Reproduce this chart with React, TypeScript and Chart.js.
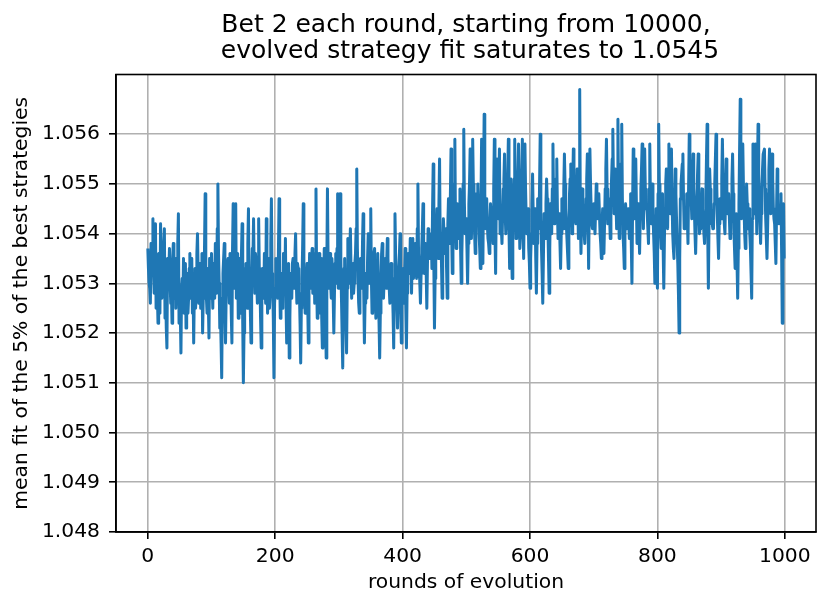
import { useEffect, useRef } from "react";
import { Chart, registerables } from "chart.js";

Chart.register(...registerables);

const TITLE_LINES = ["Bet 2 each round, starting from 10000,", " evolved strategy fit saturates to 1.0545"];
const X_LABEL = "rounds of evolution";
const Y_LABEL = "mean fit of the 5% of the best strategies";

const xTickValues = [0, 200, 400, 600, 800, 1000];
const yTickValues = [1.048, 1.049, 1.05, 1.051, 1.052, 1.053, 1.054, 1.055, 1.056];

// Each block covers 100 rounds; "even" holds rounds 0,2,4,... and "odd" rounds 1,3,5,... of that block
const BLOCK_START = [0, 100, 200, 300, 400, 500, 600, 700, 800, 900];

const even000 = [
  1.0537, 1.0530, 1.0526, 1.0534, 1.0543, 1.0528, 1.0542, 1.0531, 1.0522, 1.0533,
  1.0542, 1.0527, 1.0535, 1.0541, 1.0529, 1.0517, 1.0530, 1.0537, 1.0526, 1.0522,
  1.0538, 1.0530, 1.0525, 1.0533, 1.0544, 1.0527, 1.0516, 1.0531, 1.0535, 1.0528,
  1.0521, 1.0532, 1.0527, 1.0536, 1.0529, 1.0524, 1.0518, 1.0533, 1.0530, 1.0540,
  1.0526, 1.0534, 1.0529, 1.0520, 1.0531, 1.0548, 1.0527, 1.0533, 1.0519, 1.0530,
];
const odd000 = [
  1.0533, 1.0529, 1.0538, 1.0536, 1.0532, 1.0539, 1.0525, 1.0528, 1.0536, 1.0524,
  1.0534, 1.0531, 1.0538, 1.0523, 1.0521, 1.0535, 1.0533, 1.0530, 1.0529, 1.0535,
  1.0527, 1.0535, 1.0531, 1.0538, 1.0522, 1.0524, 1.0529, 1.0526, 1.0524, 1.0534,
  1.0530, 1.0524, 1.0533, 1.0527, 1.0535, 1.0530, 1.0528, 1.0525, 1.0536, 1.0532,
  1.0531, 1.0525, 1.0536, 1.0527, 1.0537, 1.0532, 1.0524, 1.0526, 1.0535, 1.0527,
];
const even100 = [
  1.0536, 1.0525, 1.0532, 1.0538, 1.0528, 1.0550, 1.0530, 1.0524, 1.0511, 1.0532,
  1.0538, 1.0518, 1.0530, 1.0535, 1.0526, 1.0533, 1.0518, 1.0546, 1.0529, 1.0546,
  1.0531, 1.0523, 1.0535, 1.0529, 1.0542, 1.0510, 1.0528, 1.0534, 1.0525, 1.0545,
  1.0532, 1.0518, 1.0537, 1.0543, 1.0528, 1.0534, 1.0526, 1.0543, 1.0530, 1.0517,
  1.0533, 1.0527, 1.0531, 1.0543, 1.0524, 1.0535, 1.0528, 1.0547, 1.0530, 1.0511,
];
const odd100 = [
  1.0530, 1.0534, 1.0527, 1.0533, 1.0541, 1.0536, 1.0521, 1.0518, 1.0527, 1.0535,
  1.0525, 1.0528, 1.0534, 1.0531, 1.0536, 1.0524, 1.0537, 1.0533, 1.0536, 1.0527,
  1.0536, 1.0530, 1.0524, 1.0536, 1.0522, 1.0520, 1.0533, 1.0529, 1.0538, 1.0527,
  1.0524, 1.0531, 1.0535, 1.0533, 1.0536, 1.0530, 1.0535, 1.0533, 1.0523, 1.0527,
  1.0530, 1.0536, 1.0526, 1.0532, 1.0530, 1.0525, 1.0538, 1.0532, 1.0523, 1.0526,
];
const even200 = [
  1.0529, 1.0534, 1.0527, 1.0547, 1.0523, 1.0532, 1.0526, 1.0533, 1.0539, 1.0518,
  1.0530, 1.0515, 1.0532, 1.0527, 1.0535, 1.0529, 1.0540, 1.0526, 1.0533, 1.0528,
  1.0514, 1.0531, 1.0546, 1.0530, 1.0525, 1.0534, 1.0518, 1.0536, 1.0529, 1.0537,
  1.0531, 1.0526, 1.0549, 1.0523, 1.0533, 1.0528, 1.0535, 1.0517, 1.0530, 1.0534,
  1.0515, 1.0549, 1.0529, 1.0536, 1.0527, 1.0532, 1.0520, 1.0534, 1.0530, 1.0548,
];
const odd200 = [
  1.0535, 1.0530, 1.0536, 1.0531, 1.0528, 1.0525, 1.0536, 1.0528, 1.0526, 1.0524,
  1.0534, 1.0523, 1.0528, 1.0534, 1.0530, 1.0536, 1.0531, 1.0534, 1.0527, 1.0522,
  1.0525, 1.0537, 1.0533, 1.0524, 1.0531, 1.0526, 1.0530, 1.0533, 1.0535, 1.0528,
  1.0536, 1.0530, 1.0531, 1.0528, 1.0536, 1.0524, 1.0523, 1.0533, 1.0537, 1.0525,
  1.0533, 1.0535, 1.0532, 1.0530, 1.0535, 1.0527, 1.0528, 1.0536, 1.0537, 1.0529,
];
const even300 = [
  1.0531, 1.0548, 1.0527, 1.0513, 1.0533, 1.0528, 1.0516, 1.0539, 1.0530, 1.0541,
  1.0527, 1.0534, 1.0530, 1.0536, 1.0553, 1.0531, 1.0524, 1.0535, 1.0529, 1.0544,
  1.0518, 1.0532, 1.0527, 1.0540, 1.0530, 1.0545, 1.0524, 1.0533, 1.0537, 1.0523,
  1.0532, 1.0528, 1.0515, 1.0531, 1.0538, 1.0527, 1.0533, 1.0529, 1.0539, 1.0531,
  1.0526, 1.0534, 1.0529, 1.0517, 1.0544, 1.0530, 1.0521, 1.0533, 1.0540, 1.0518,
];
const odd300 = [
  1.0537, 1.0535, 1.0520, 1.0528, 1.0535, 1.0522, 1.0529, 1.0535, 1.0536, 1.0533,
  1.0531, 1.0528, 1.0534, 1.0541, 1.0537, 1.0526, 1.0532, 1.0530, 1.0538, 1.0528,
  1.0526, 1.0530, 1.0535, 1.0534, 1.0538, 1.0531, 1.0529, 1.0536, 1.0529, 1.0527,
  1.0536, 1.0522, 1.0524, 1.0536, 1.0532, 1.0531, 1.0535, 1.0534, 1.0535, 1.0529,
  1.0532, 1.0530, 1.0524, 1.0531, 1.0536, 1.0526, 1.0528, 1.0536, 1.0525, 1.0529,
];
const even400 = [
  1.0530, 1.0526, 1.0537, 1.0517, 1.0532, 1.0535, 1.0539, 1.0528, 1.0539, 1.0533,
  1.0538, 1.0531, 1.0550, 1.0534, 1.0526, 1.0537, 1.0546, 1.0532, 1.0538, 1.0525,
  1.0541, 1.0535, 1.0538, 1.0533, 1.0554, 1.0521, 1.0537, 1.0545, 1.0535, 1.0555,
  1.0540, 1.0527, 1.0543, 1.0536, 1.0541, 1.0527, 1.0547, 1.0538, 1.0557, 1.0532,
  1.0544, 1.0559, 1.0537, 1.0546, 1.0539, 1.0549, 1.0530, 1.0543, 1.0561, 1.0540,
];
const odd400 = [
  1.0533, 1.0531, 1.0525, 1.0528, 1.0536, 1.0532, 1.0534, 1.0535, 1.0531, 1.0536,
  1.0534, 1.0541, 1.0536, 1.0530, 1.0532, 1.0541, 1.0537, 1.0535, 1.0532, 1.0534,
  1.0538, 1.0536, 1.0540, 1.0545, 1.0534, 1.0531, 1.0541, 1.0539, 1.0546, 1.0538,
  1.0534, 1.0536, 1.0540, 1.0538, 1.0533, 1.0542, 1.0541, 1.0548, 1.0540, 1.0538,
  1.0550, 1.0542, 1.0541, 1.0543, 1.0545, 1.0537, 1.0536, 1.0550, 1.0546, 1.0542,
];
const even500 = [
  1.0543, 1.0530, 1.0546, 1.0557, 1.0539, 1.0559, 1.0544, 1.0536, 1.0548, 1.0550,
  1.0540, 1.0533, 1.0559, 1.0534, 1.0564, 1.0541, 1.0547, 1.0539, 1.0536, 1.0546,
  1.0542, 1.0538, 1.0559, 1.0532, 1.0555, 1.0543, 1.0557, 1.0545, 1.0538, 1.0549,
  1.0556, 1.0540, 1.0546, 1.0559, 1.0533, 1.0551, 1.0531, 1.0545, 1.0559, 1.0539,
  1.0547, 1.0558, 1.0537, 1.0544, 1.0559, 1.0535, 1.0558, 1.0543, 1.0541, 1.0537,
];
const odd500 = [
  1.0537, 1.0538, 1.0550, 1.0546, 1.0548, 1.0550, 1.0540, 1.0542, 1.0543, 1.0545,
  1.0537, 1.0546, 1.0544, 1.0550, 1.0548, 1.0543, 1.0542, 1.0538, 1.0541, 1.0544,
  1.0540, 1.0549, 1.0540, 1.0546, 1.0548, 1.0551, 1.0540, 1.0541, 1.0544, 1.0551,
  1.0544, 1.0543, 1.0552, 1.0541, 1.0545, 1.0538, 1.0540, 1.0551, 1.0546, 1.0543,
  1.0551, 1.0545, 1.0540, 1.0552, 1.0542, 1.0546, 1.0549, 1.0540, 1.0545, 1.0534,
];
const even600 = [
  1.0529, 1.0540, 1.0552, 1.0538, 1.0545, 1.0528, 1.0547, 1.0541, 1.0560, 1.0537,
  1.0526, 1.0544, 1.0539, 1.0551, 1.0542, 1.0528, 1.0546, 1.0540, 1.0558, 1.0542,
  1.0548, 1.0555, 1.0539, 1.0544, 1.0533, 1.0547, 1.0541, 1.0556, 1.0545, 1.0539,
  1.0533, 1.0548, 1.0554, 1.0540, 1.0557, 1.0544, 1.0542, 1.0553, 1.0539, 1.0569,
  1.0536, 1.0549, 1.0543, 1.0538, 1.0547, 1.0556, 1.0533, 1.0557, 1.0545, 1.0541,
];
const odd600 = [
  1.0535, 1.0546, 1.0544, 1.0541, 1.0535, 1.0538, 1.0544, 1.0550, 1.0543, 1.0532,
  1.0535, 1.0541, 1.0546, 1.0547, 1.0535, 1.0537, 1.0543, 1.0549, 1.0546, 1.0544,
  1.0551, 1.0545, 1.0541, 1.0538, 1.0540, 1.0544, 1.0549, 1.0550, 1.0542, 1.0536,
  1.0541, 1.0551, 1.0547, 1.0549, 1.0550, 1.0543, 1.0548, 1.0546, 1.0552, 1.0544,
  1.0543, 1.0546, 1.0540, 1.0542, 1.0551, 1.0544, 1.0546, 1.0550, 1.0542, 1.0544,
];
const even700 = [
  1.0546, 1.0540, 1.0550, 1.0543, 1.0548, 1.0540, 1.0535, 1.0545, 1.0536, 1.0549,
  1.0559, 1.0542, 1.0547, 1.0539, 1.0551, 1.0561, 1.0544, 1.0553, 1.0541, 1.0563,
  1.0539, 1.0548, 1.0562, 1.0540, 1.0533, 1.0546, 1.0541, 1.0545, 1.0539, 1.0548,
  1.0530, 1.0557, 1.0543, 1.0555, 1.0538, 1.0546, 1.0536, 1.0549, 1.0558, 1.0541,
  1.0557, 1.0545, 1.0544, 1.0538, 1.0558, 1.0542, 1.0550, 1.0540, 1.0530, 1.0545,
];
const odd700 = [
  1.0543, 1.0545, 1.0546, 1.0545, 1.0544, 1.0538, 1.0541, 1.0540, 1.0542, 1.0553,
  1.0549, 1.0545, 1.0543, 1.0546, 1.0555, 1.0550, 1.0549, 1.0546, 1.0552, 1.0548,
  1.0543, 1.0554, 1.0547, 1.0537, 1.0540, 1.0543, 1.0543, 1.0542, 1.0544, 1.0538,
  1.0545, 1.0549, 1.0550, 1.0546, 1.0542, 1.0541, 1.0543, 1.0553, 1.0548, 1.0550,
  1.0549, 1.0546, 1.0541, 1.0549, 1.0547, 1.0546, 1.0544, 1.0536, 1.0539, 1.0536,
];
const even800 = [
  1.0529, 1.0562, 1.0543, 1.0537, 1.0548, 1.0529, 1.0545, 1.0553, 1.0541, 1.0558,
  1.0544, 1.0557, 1.0540, 1.0535, 1.0553, 1.0543, 1.0534, 1.0520, 1.0547, 1.0552,
  1.0556, 1.0541, 1.0542, 1.0548, 1.0538, 1.0560, 1.0552, 1.0543, 1.0556, 1.0545,
  1.0536, 1.0547, 1.0556, 1.0540, 1.0542, 1.0549, 1.0543, 1.0538, 1.0547, 1.0562,
  1.0529, 1.0553, 1.0545, 1.0542, 1.0541, 1.0550, 1.0560, 1.0544, 1.0535, 1.0547,
];
const odd800 = [
  1.0548, 1.0550, 1.0540, 1.0544, 1.0537, 1.0539, 1.0550, 1.0546, 1.0550, 1.0549,
  1.0551, 1.0547, 1.0537, 1.0545, 1.0548, 1.0538, 1.0528, 1.0535, 1.0550, 1.0554,
  1.0547, 1.0543, 1.0545, 1.0543, 1.0550, 1.0555, 1.0547, 1.0550, 1.0549, 1.0540,
  1.0542, 1.0552, 1.0547, 1.0541, 1.0546, 1.0545, 1.0540, 1.0543, 1.0555, 1.0540,
  1.0542, 1.0549, 1.0543, 1.0541, 1.0546, 1.0555, 1.0551, 1.0539, 1.0542, 1.0545,
];
const even900 = [
  1.0543, 1.0559, 1.0546, 1.0540, 1.0555, 1.0544, 1.0548, 1.0539, 1.0545, 1.0556,
  1.0541, 1.0533, 1.0544, 1.0527, 1.0546, 1.0567, 1.0543, 1.0558, 1.0545, 1.0537,
  1.0550, 1.0541, 1.0545, 1.0537, 1.0527, 1.0558, 1.0544, 1.0558, 1.0540, 1.0562,
  1.0546, 1.0538, 1.0549, 1.0556, 1.0557, 1.0543, 1.0535, 1.0548, 1.0557, 1.0544,
  1.0556, 1.0545, 1.0542, 1.0534, 1.0553, 1.0543, 1.0542, 1.0548, 1.0522, 1.0546,
];
const odd900 = [
  1.0551, 1.0551, 1.0542, 1.0548, 1.0549, 1.0546, 1.0543, 1.0542, 1.0551, 1.0548,
  1.0537, 1.0538, 1.0534, 1.0537, 1.0557, 1.0553, 1.0551, 1.0550, 1.0540, 1.0544,
  1.0546, 1.0543, 1.0540, 1.0532, 1.0543, 1.0550, 1.0551, 1.0549, 1.0553, 1.0552,
  1.0542, 1.0544, 1.0553, 1.0556, 1.0549, 1.0539, 1.0541, 1.0553, 1.0550, 1.0549,
  1.0551, 1.0543, 1.0538, 1.0544, 1.0547, 1.0542, 1.0545, 1.0536, 1.0534, 1.0535,
];

const EVEN_BLOCKS = [even000, even100, even200, even300, even400, even500, even600, even700, even800, even900];
const ODD_BLOCKS = [odd000, odd100, odd200, odd300, odd400, odd500, odd600, odd700, odd800, odd900];

const FONT = "'DejaVu Sans', sans-serif";

export default function App() {
  const canvasRef = useRef<HTMLCanvasElement | null>(null);

  useEffect(() => {
    const canvas = canvasRef.current;
    if (!canvas) return;
    const points: { x: number; y: number }[] = [];
    BLOCK_START.forEach((start, b) => {
      const ev = EVEN_BLOCKS[b];
      const od = ODD_BLOCKS[b];
      for (let i = 0; i < ev.length; i++) {
        points.push({ x: start + 2 * i, y: ev[i] });
        if (i < od.length) points.push({ x: start + 2 * i + 1, y: od[i] });
      }
    });

    const framePlugin = {
      id: "frame",
      afterDraw(chart: any) {
        const { ctx, chartArea } = chart;
        ctx.save();
        ctx.strokeStyle = "#000";
        ctx.lineWidth = 1.6;
        ctx.strokeRect(chartArea.left, chartArea.top, chartArea.right - chartArea.left, chartArea.bottom - chartArea.top);
        ctx.restore();
      },
    };

    const chart = new Chart(canvas, {
      type: "line",
      data: {
        datasets: [
          {
            data: points,
            borderColor: "#1f77b4",
            borderWidth: 3.0,
            pointRadius: 0,
            tension: 0,
            borderJoinStyle: "round",
            fill: false,
          },
        ],
      },
      options: {
        animation: false,
        responsive: true,
        maintainAspectRatio: false,
        devicePixelRatio: 1,
        layout: { padding: { left: 0, right: 2, top: 0, bottom: 0 } },
        plugins: {
          legend: { display: false },
          tooltip: { enabled: false },
          title: {
            display: true,
            text: TITLE_LINES,
            fullSize: false,
            color: "#000",
            font: { family: FONT, size: 25, weight: "normal", lineHeight: 1.03 },
            padding: { top: 13, bottom: 10 },
          },
        },
        scales: {
          x: {
            type: "linear",
            min: -49.95,
            max: 1048.95,
            afterBuildTicks: (s: any) => {
              s.ticks = xTickValues.map((v) => ({ value: v }));
            },
            afterFit: (s: any) => {
              s.height = 61;
            },
            grid: { color: "#b0b0b0", lineWidth: 1.6, tickColor: "#000", tickLength: 7, tickWidth: 1.6 },
            border: { color: "#000", width: 1.6 },
            ticks: {
              color: "#000",
              padding: 6,
              maxRotation: 0,
              font: { family: FONT, size: 20.3 },
              callback: (v: any) => String(v),
            },
            title: {
              display: true,
              text: X_LABEL,
              color: "#000",
              font: { family: FONT, size: 20.3, lineHeight: 1.0 },
              padding: { top: 0, bottom: 0 },
            },
          },
          y: {
            type: "linear",
            min: 1.048,
            max: 1.0572,
            afterBuildTicks: (s: any) => {
              s.ticks = yTickValues.map((v) => ({ value: v }));
            },
            afterFit: (s: any) => {
              s.width = 116;
            },
            grid: { color: "#b0b0b0", lineWidth: 1.6, tickColor: "#000", tickLength: 7, tickWidth: 1.6 },
            border: { color: "#000", width: 1.6 },
            ticks: {
              color: "#000",
              padding: 9,
              font: { family: FONT, size: 20.3 },
              callback: (v: any) => Number(v).toFixed(3),
            },
            title: {
              display: true,
              text: Y_LABEL,
              color: "#000",
              font: { family: FONT, size: 20.3, lineHeight: 1.0 },
              padding: { top: 12, bottom: 0 },
            },
          },
        },
      },
      plugins: [framePlugin],
    });
    return () => chart.destroy();
  }, []);

  return (
    <div style={{ position: "absolute", left: 0, top: 0, width: 818, height: 593, background: "#fff" }}>
      <canvas ref={canvasRef} />
    </div>
  );
}
